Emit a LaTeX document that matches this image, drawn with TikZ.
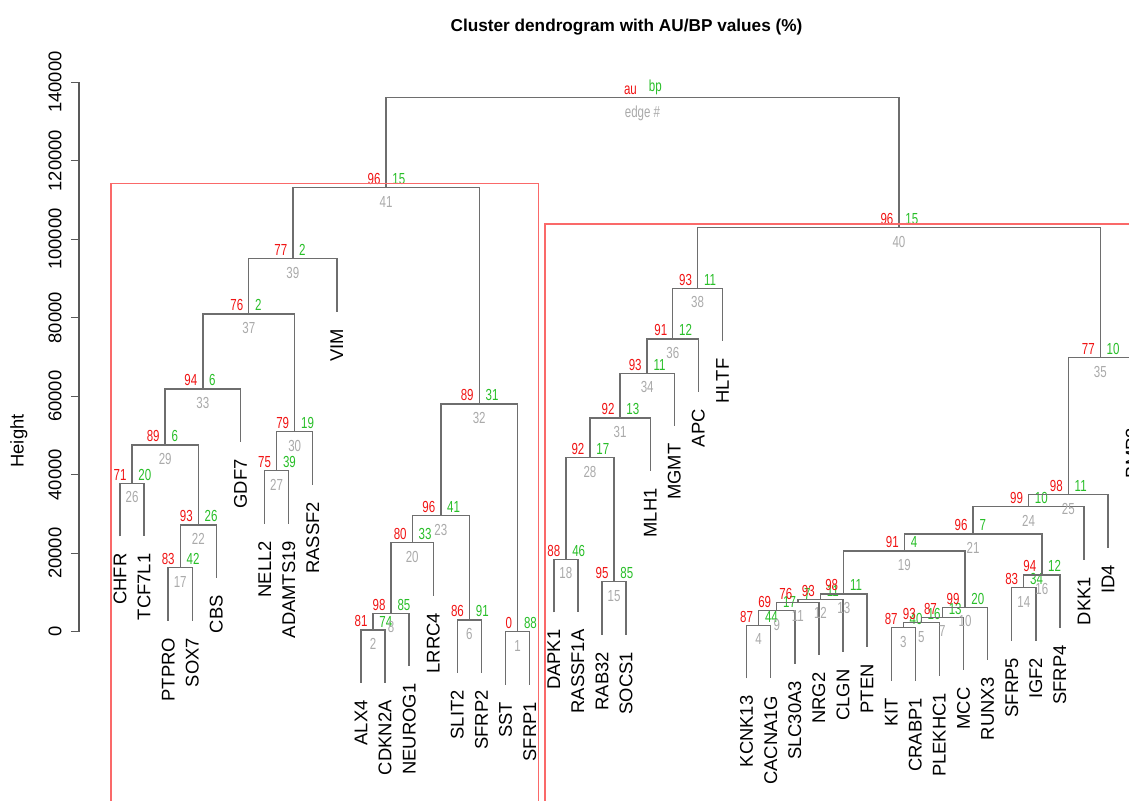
\documentclass[tikz,border=0pt]{standalone}
\usepackage{fontspec}
\setmainfont{Liberation Sans}
\usetikzlibrary{calc}

\definecolor{aured}{RGB}{240,20,20}
\definecolor{bpgreen}{RGB}{40,190,40}
\definecolor{edgegray}{RGB}{170,170,170}
\definecolor{branchgray}{RGB}{110,110,110}
\definecolor{boxred}{RGB}{250,105,105}

% merge: name, left, right, height, au, bp, edge
\newcommand\joinpair[7]{%
  \path let \p1=(#2), \p2=(#3), \p3=(0,#4) in coordinate (#1) at ({(\x1+\x2)/2},\y3);
  \draw[branch] (#2) |- (#1) -| (#3);
  \node[au] (#1-au) at (#1) {\scalebox{.72}[1]{#5}};
  \node[bp] (#1-bp) at (#1) {\scalebox{.72}[1]{#6}};
  \node[edgeno] (#1-e) at (#1) {\scalebox{.72}[1]{#7}};
}

\begin{document}
\begin{tikzpicture}[
x=12.05pt, y=19.625pt,
branch/.style={
  draw=branchgray,
  line width=.7pt
  },
numfont/.style={
  inner sep=0pt,
  font=\fontsize{8}{9}\selectfont
  },
au/.style={numfont, text=aured, anchor=south east, xshift=-2.6pt, yshift=1.3pt},
bp/.style={numfont, text=bpgreen, anchor=south west, xshift=3pt, yshift=1.3pt},
edgeno/.style={numfont, text=edgegray, anchor=north, yshift=-4pt},
leaf/.style={
  rotate=90,
  anchor=east,
  inner sep=0pt,
  font=\fontsize{9.2}{10}\selectfont
  },
ticklab/.style={
  rotate=90,
  anchor=south,
  inner sep=0pt,
  font=\fontsize{9.2}{10}\selectfont
  },
axisline/.style={draw=black!65, line width=.6pt},
pvbox/.style={draw=boxred, line width=.7pt}
]

\useasboundingbox (-4.979,-4.313) rectangle (41.867,16.094);
\clip (-4.979,-4.313) rectangle (41.867,16.094);

\node[font=\bfseries\fontsize{8.6}{10}\selectfont] (title) at (21.017,15.406)
  {Cluster dendrogram with AU/BP values (\%)};
\node[rotate=90, font=\fontsize{9.2}{10}\selectfont] (ylab) at (-4.191,4.859) {Height};

% axis
\draw[axisline] (-1.701,0) -- (-1.701,14);
\foreach \v/\t in {0/0,2/20000,4/40000,6/60000,8/80000,10/100000,12/120000,14/140000}{
  \draw[axisline] (-2.033,\v) -- (-1.701,\v);
  \node[ticklab] (tick\v) at (-2.407,\v) {\t};
}

% leaves, with the height of their parent
\foreach \g/\h [count=\i from 0] in {CHFR/3.781, TCF7L1/3.781, PTPRO/1.631, SOX7/1.631,
  CBS/2.719, GDF7/6.183, NELL2/4.102, ADAMTS19/4.102, RASSF2/5.096, VIM/9.503,
  ALX4/0.043, CDKN2A/0.043, NEUROG1/0.469, LRRC4/2.268, SLIT2/0.298, SFRP2/0.298,
  SST/0, SFRP1/0, DAPK1/1.845, RASSF1A/1.845, RAB32/1.274, SOCS1/1.274,
  MLH1/5.445, MGMT/6.583, APC/7.457, HLTF/8.749, KCNK13/0.163, CACNA1G/0.163,
  SLC30A3/0.535, NRG2/0.749, CLGN/0.825, PTEN/0.961, KIT/0.102, CRABP1/0.102,
  PLEKHC1/0.229, MCC/0.367, RUNX3/0.622, SFRP5/1.121, IGF2/1.121, SFRP4/1.445,
  DKK1/3.185, ID4/3.490, BMP3/6.981}{
  \coordinate (\g) at (\i,\h-1.35);
  \node[leaf] (lab-\g) at ([yshift=-8.5pt]\g) {\g};
}

\joinpair{m26}{CHFR}{TCF7L1}{3.781}{71}{20}{26}
\joinpair{m17}{PTPRO}{SOX7}{1.631}{83}{42}{17}
\joinpair{m22}{m17}{CBS}{2.719}{93}{26}{22}
\joinpair{m29}{m26}{m22}{4.757}{89}{6}{29}
\joinpair{m33}{m29}{GDF7}{6.183}{94}{6}{33}
\joinpair{m27}{NELL2}{ADAMTS19}{4.102}{75}{39}{27}
\joinpair{m30}{m27}{RASSF2}{5.096}{79}{19}{30}
\joinpair{m37}{m33}{m30}{8.094}{76}{2}{37}
\joinpair{m39}{m37}{VIM}{9.503}{77}{2}{39}
\joinpair{m2}{ALX4}{CDKN2A}{0.043}{81}{74}{2}
\joinpair{m8}{m2}{NEUROG1}{0.469}{98}{85}{8}
\joinpair{m20}{m8}{LRRC4}{2.268}{80}{33}{20}
\joinpair{m6}{SLIT2}{SFRP2}{0.298}{86}{91}{6}
\joinpair{m23}{m20}{m6}{2.955}{96}{41}{23}
\joinpair{m1}{SST}{SFRP1}{0}{0}{88}{1}
\joinpair{m32}{m23}{m1}{5.801}{89}{31}{32}
\joinpair{m41}{m39}{m32}{11.312}{96}{15}{41}

\joinpair{m18}{DAPK1}{RASSF1A}{1.845}{88}{46}{18}
\joinpair{m15}{RAB32}{SOCS1}{1.274}{95}{85}{15}
\joinpair{m28}{m18}{m15}{4.433}{92}{17}{28}
\joinpair{m31}{m28}{MLH1}{5.445}{92}{13}{31}
\joinpair{m34}{m31}{MGMT}{6.583}{93}{11}{34}
\joinpair{m36}{m34}{APC}{7.457}{91}{12}{36}
\joinpair{m38}{m36}{HLTF}{8.749}{93}{11}{38}
\joinpair{m4}{KCNK13}{CACNA1G}{0.163}{87}{44}{4}
\joinpair{m9}{m4}{SLC30A3}{0.535}{69}{17}{9}
\joinpair{m11}{m9}{NRG2}{0.749}{76}{7}{11}
\joinpair{m12}{m11}{CLGN}{0.825}{93}{11}{12}
\joinpair{m13}{m12}{PTEN}{0.961}{98}{11}{13}
\joinpair{m3}{KIT}{CRABP1}{0.102}{87}{40}{3}
\joinpair{m5}{m3}{PLEKHC1}{0.229}{93}{16}{5}
\joinpair{m7}{m5}{MCC}{0.367}{87}{13}{7}
\joinpair{m10}{m7}{RUNX3}{0.622}{99}{20}{10}
\joinpair{m19}{m13}{m10}{2.056}{91}{4}{19}
\joinpair{m14}{SFRP5}{IGF2}{1.121}{83}{34}{14}
\joinpair{m16}{m14}{SFRP4}{1.445}{94}{12}{16}
\joinpair{m21}{m19}{m16}{2.489}{96}{7}{21}
\joinpair{m24}{m21}{DKK1}{3.185}{99}{10}{24}
\joinpair{m25}{m24}{ID4}{3.490}{98}{11}{25}
\joinpair{m35}{m25}{BMP3}{6.981}{77}{10}{35}
\joinpair{m40}{m38}{m35}{10.293}{96}{15}{40}

\joinpair{root}{m41}{m40}{13.605}{au}{bp}{edge \#}

% significant clusters
\draw[pvbox] (-0.373,-5) rectangle (17.357,11.419);
\draw[pvbox] (17.635,-5) rectangle (43,10.387);

\end{tikzpicture}
\end{document}
